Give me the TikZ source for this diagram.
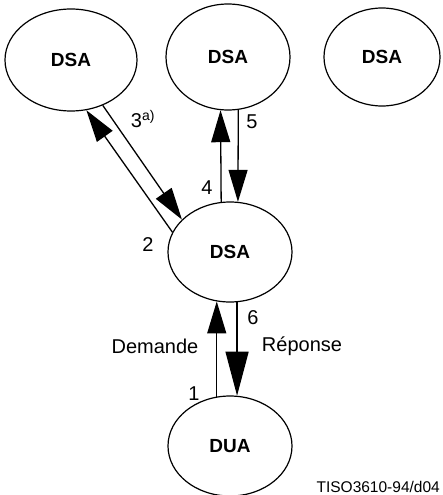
\documentclass[tikz,border=0pt]{standalone}
\usepackage{fontspec}
\setmainfont{Liberation Sans}
\usetikzlibrary{shapes.geometric,arrows.meta}
\tikzset{
  agent/.style={draw=black, ellipse, line width=1.2pt, inner sep=0pt,
    font=\fontsize{19}{22}\selectfont\bfseries},
  flow/.style={draw=black, line width=1.3pt, -{Triangle[length=32pt,width=19pt]}},
  bigflow/.style={flow, -{Triangle[length=44pt,width=23pt]}},
  lab/.style={font=\fontsize{20}{24}\selectfont, inner sep=1pt},
  ref/.style={font=\fontsize{15.5}{18}\selectfont, inner sep=0pt}
}
\begin{document}
\begin{tikzpicture}[x=1pt,y=-1pt]
  \useasboundingbox (0,0) rectangle (442,495);
  % agents
  \node[agent, minimum width=132pt, minimum height=102pt] (dsaL) at (71,60) {DSA};
  \node[agent, minimum width=124pt, minimum height=106pt] (dsaT) at (228,57) {DSA};
  \node[agent, minimum width=116pt, minimum height=98pt] (dsaR) at (382,57) {DSA};
  \node[agent, minimum width=124pt, minimum height=100pt] (dsaM) at (230,252) {DSA};
  \node[agent, minimum width=124pt, minimum height=100pt] (dua) at (230,446) {DUA};

  % request / reply
  \draw[flow] (dua.105) -- (dsaM.255);
  \draw[bigflow] (dsaM.278) -- (dua.82);
  \draw[flow] (dsaM.161) -- (dsaL.287);
  \draw[flow] (dsaL.305) -- (dsaM.146);
  \draw[flow] (dsaM.100) -- (dsaT.262);
  \draw[flow] (dsaT.281) -- (dsaM.81);

  % labels
  \node[lab] (n1) at (194,394) {1};
  \node[lab] (n2) at (148,245) {2};
  \node[lab] (n3) at (143,119) {3\textsuperscript{a)}};
  \node[lab] (n4) at (207,188) {4};
  \node[lab] (n5) at (252,122) {5};
  \node[lab] (n6) at (253,318) {6};
  \node[lab] (dem) at (155,346) {Demande};
  \node[lab] (rep) at (302,346) {Réponse};
  \node[ref, anchor=base east] (tag) at (440,492) {TISO3610-94/d04};
\end{tikzpicture}
\end{document}
